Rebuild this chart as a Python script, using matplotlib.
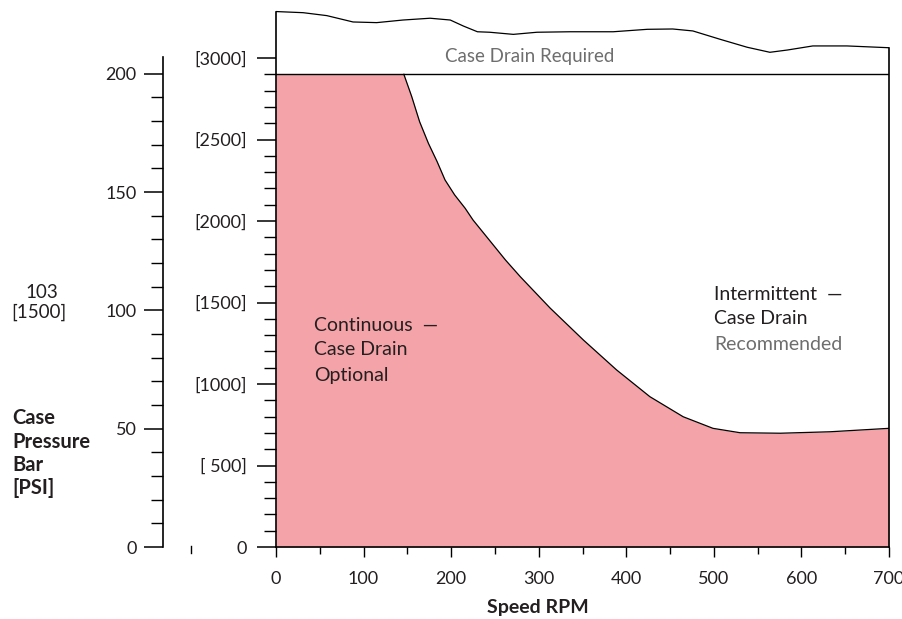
import numpy as np
import matplotlib
matplotlib.use("Agg")
import matplotlib.pyplot as plt
from matplotlib.lines import Line2D

plt.rcParams['font.family'] = ['Lato', 'DejaVu Sans']

# pressure limit curve (continuous / intermittent boundary), rpm vs psi
fill_rpm = [0, 146, 155, 164, 174, 184, 193, 204, 216, 225, 262, 279, 313,
            351, 389, 427, 465, 499, 530, 576, 633, 700]
fill_psi = [2900, 2900, 2763, 2609, 2477, 2364, 2252, 2160, 2078, 2006, 1761,
            1658, 1466, 1270, 1086, 922, 799, 728, 701, 698, 707, 728]

# upper wavy boundary of "case drain required" band
top_rpm = [0, 31, 58, 88, 115, 145, 176, 199, 214, 230, 244, 271, 298, 336,
           385, 424, 453, 476, 507, 538, 564, 584, 613, 652, 700]
top_psi = [3285, 3278, 3260, 3221, 3217, 3233, 3244, 3233, 3196, 3161, 3158,
           3145, 3158, 3161, 3161, 3176, 3178, 3166, 3115, 3066, 3035, 3049,
           3074, 3074, 3063]

limit_psi = 2900

x_major = [0, 100, 200, 300, 400, 500, 600, 700]
x_minor = [50, 150, 250, 350, 450, 550, 650]
psi_major = [0, 500, 1000, 1500, 2000, 2500, 3000]
psi_labels = ['0', '[ 500]', '[1000]', '[1500]', '[2000]', '[2500]', '[3000]']
psi_minor = [p for p in range(100, 3001, 100) if p % 500 != 0]
bar_major = [0, 50, 100, 150, 200]
bar_minor = [b for b in range(10, 201, 10) if b % 50 != 0]

txt = '#231f20'
grey = '#6e6e6e'
pink = '#f4a4a8'

W, H = 903, 619
fig = plt.figure(figsize=(W / 100, H / 100), dpi=100)

left, right = 276 / W, 889 / W
bottom, top = 1 - 547 / H, 1 - 10 / H
ax = fig.add_axes([left, bottom, right - left, top - bottom])

ax.fill_between(fill_rpm, 0, fill_psi, color=pink, lw=0)
ax.plot(fill_rpm[1:], fill_psi[1:], color='black', lw=0.9)
ax.plot(top_rpm, top_psi, color='black', lw=0.9)
ax.axhline(limit_psi, color='black', lw=1.0)

ax.set_xlim(0, 700)
ax.set_ylim(0, 537 / 0.163)

ax.spines['top'].set_visible(False)
ax.spines['left'].set_bounds(0, top_psi[0])
ax.spines['right'].set_bounds(0, top_psi[-1])
for s in ax.spines.values():
    s.set_linewidth(1.2)

ax.set_xticks(x_major)
ax.set_xticks(x_minor, minor=True)
ax.set_yticks(psi_major)
ax.set_yticklabels(psi_labels)
ax.set_yticks(psi_minor, minor=True)
ax.tick_params(axis='y', which='major', direction='out', length=14, width=1.1,
               pad=7, labelsize=13, labelcolor=txt)
ax.tick_params(axis='y', which='minor', direction='out', length=9, width=1.0)
ax.tick_params(axis='x', which='major', direction='out', length=7, width=1.0,
               pad=10, labelsize=13, labelcolor=txt)
ax.tick_params(axis='x', which='minor', direction='out', length=5, width=1.0)

# bar scale on the far left
bx = fig.add_axes([163 / W, bottom, 0.001, top - bottom])
bx.set_ylim(0, 537 / 2.3665)
bx.set_xticks([])
for k in ['top', 'right', 'bottom']:
    bx.spines[k].set_visible(False)
bx.spines['left'].set_bounds(0, 207)
bx.spines['left'].set_linewidth(1.2)
bx.patch.set_visible(False)
bx.set_yticks(bar_major)
bx.set_yticks(bar_minor, minor=True)
bx.tick_params(axis='y', which='major', direction='out', length=14, width=1.1,
               pad=5, labelsize=13, labelcolor=txt)
bx.tick_params(axis='y', which='minor', direction='out', length=9, width=1.0)

fig.add_artist(Line2D([191 / W, 191 / W], [1 - 546 / H, 1 - 553 / H],
                      color='black', lw=1.0))

# annotations
ax.text(290, 3010, 'Case Drain Required', ha='center', va='center',
        fontsize=13.5, color=grey)
ax.text(43, 1360, 'Continuous  \u2014', ha='left', va='center', fontsize=14, color=txt)
ax.text(43, 1210, 'Case Drain', ha='left', va='center', fontsize=14, color=txt)
ax.text(43, 1055, 'Optional', ha='left', va='center', fontsize=14, color=txt)
ax.text(500, 1550, 'Intermittent  \u2014', ha='left', va='center', fontsize=14, color=txt)
ax.text(500, 1400, 'Case Drain', ha='left', va='center', fontsize=14, color=txt)
ax.text(500, 1240, 'Recommended', ha='left', va='center', fontsize=14, color=grey)

fig.text(42 / W, 1 - 292 / H, '103', ha='center', va='center', fontsize=13.5, color=txt)
fig.text(39 / W, 1 - 312 / H, '[1500]', ha='center', va='center', fontsize=13.5, color=txt)
for i, s in enumerate(['Case', 'Pressure', 'Bar', '[PSI]']):
    fig.text(12 / W, 1 - (418 + 23.5 * i) / H, s, ha='left', va='center',
             fontsize=14.5, fontweight='bold', color=txt)

fig.text(538 / W, 1 - 607 / H, 'Speed RPM', ha='center', va='center',
         fontsize=14, fontweight='bold', color=txt)

fig.savefig('out.png', dpi=100)
